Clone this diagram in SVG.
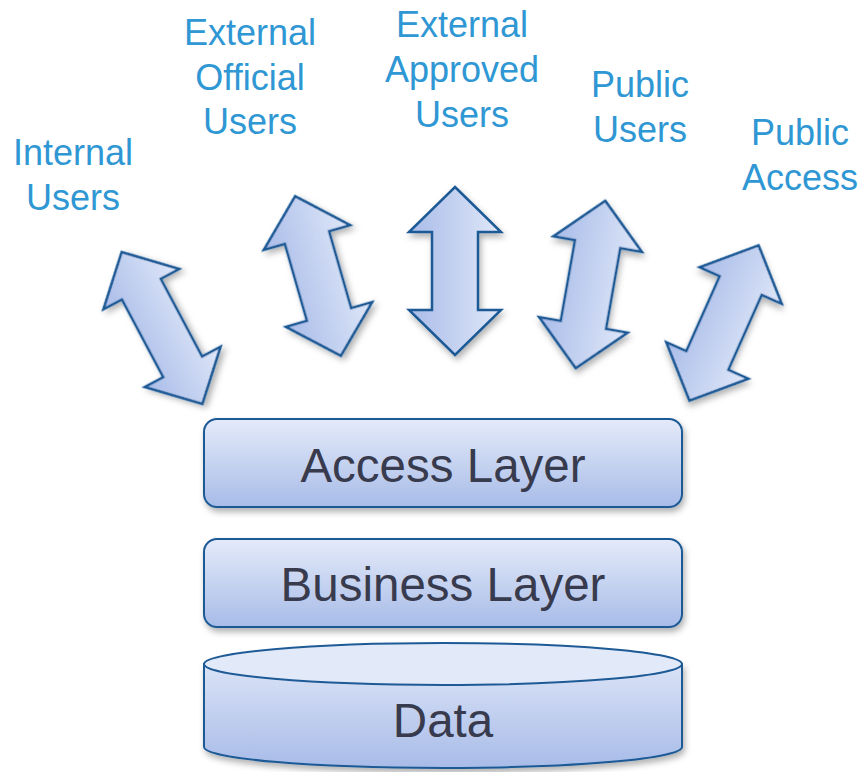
<svg xmlns="http://www.w3.org/2000/svg" width="865" height="772" viewBox="0 0 865 772">
<style>
.lbl{font-family:"Liberation Sans",Arial,sans-serif;font-size:36px;fill:#2f97d3;text-anchor:middle}
.layer{font-family:"Liberation Sans",Arial,sans-serif;font-size:47.5px;fill:#383a4d;text-anchor:middle}
.arr{fill:url(#ag);stroke:#1d5a96;stroke-width:2.5;stroke-linejoin:miter;filter:url(#sh)}
.box{fill:url(#bg);stroke:#1d5a96;stroke-width:2;filter:url(#sh)}
</style>
<defs>
<linearGradient id="ag" x1="0" y1="0" x2="1" y2="0">
<stop offset="0" stop-color="#a9bce9"/>
<stop offset="1" stop-color="#dfe7f8"/>
</linearGradient>
<linearGradient id="bg" x1="0" y1="0" x2="0" y2="1">
<stop offset="0" stop-color="#e4eaf9"/>
<stop offset="1" stop-color="#a8bce8"/>
</linearGradient>
<linearGradient id="cg" gradientUnits="userSpaceOnUse" x1="0" y1="643" x2="0" y2="768">
<stop offset="0" stop-color="#e4eaf9"/>
<stop offset="1" stop-color="#a8bce8"/>
</linearGradient>
<filter id="sh" x="-20%" y="-20%" width="140%" height="140%">
<feDropShadow dx="2" dy="4" stdDeviation="3" flood-color="#000" flood-opacity="0.3"/>
</filter>
<path id="arrow" d="M0,-84 L46,-39 L23,-39 L23,39 L46,39 L0,84 L-46,39 L-23,39 L-23,-39 L-46,-39 Z"/>
</defs>

<g id="labels">
<g id="internal-users"><text class="lbl" x="73" y="165">Internal</text><text class="lbl" x="73" y="210">Users</text></g>
<g id="external-official-users"><text class="lbl" x="250" y="45">External</text><text class="lbl" x="250" y="90">Official</text><text class="lbl" x="250" y="134">Users</text></g>
<g id="external-approved-users"><text class="lbl" x="462" y="37">External</text><text class="lbl" x="462" y="82">Approved</text><text class="lbl" x="462" y="127">Users</text></g>
<g id="public-users"><text class="lbl" x="640" y="97">Public</text><text class="lbl" x="640" y="142">Users</text></g>
<g id="public-access"><text class="lbl" x="800" y="145">Public</text><text class="lbl" x="800" y="190">Access</text></g>
</g>

<g id="connectors">
<path class="arr" d="M0,-86 L43,-44 L22,-44 L22,44 L43,44 L0,86 L-43,44 L-22,44 L-22,-44 L-43,-44 Z" transform="translate(162,328) rotate(-28)"/>
<path class="arr" d="M0,-83 L45,-40 L23,-40 L23,40 L45,40 L0,83 L-45,40 L-23,40 L-23,-40 L-45,-40 Z" transform="translate(318,276) rotate(-16)"/>
<path class="arr" d="M0,-84 L46,-39 L23,-39 L23,39 L46,39 L0,84 L-46,39 L-23,39 L-23,-39 L-46,-39 Z" transform="translate(455,271)"/>
<path class="arr" d="M0,-85 L45,-41 L23,-41 L23,41 L45,41 L0,85 L-45,41 L-23,41 L-23,-41 L-45,-41 Z" transform="translate(590.5,284.5) rotate(10)"/>
<path class="arr" d="M0,-85 L45,-41 L23,-41 L23,41 L45,41 L0,85 L-45,41 L-23,41 L-23,-41 L-45,-41 Z" transform="translate(724,323) rotate(24)"/>
</g>

<g id="access-layer">
<rect class="box" x="204" y="419" width="478" height="88" rx="13"/>
<text class="layer" x="443" y="482">Access Layer</text>
</g>
<g id="business-layer">
<rect class="box" x="204" y="539" width="478" height="88" rx="13"/>
<text class="layer" x="443" y="601">Business Layer</text>
</g>
<g id="data">
<path d="M204,664 L204,747 A239,21 0 0 0 682,747 L682,664 Z" fill="url(#cg)" stroke="#1d5a96" stroke-width="2" filter="url(#sh)"/>
<ellipse cx="443" cy="664" rx="239" ry="21" fill="#e2e9f8" stroke="#1d5a96" stroke-width="2"/>
<text class="layer" x="443" y="737">Data</text>
</g>
</svg>
